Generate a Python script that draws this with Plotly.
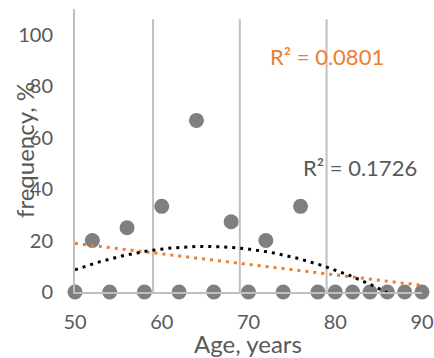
import numpy as np
import plotly.graph_objects as go

# Age groups (years) and observed frequency (%)
ages = [50, 52, 54, 56, 58, 60, 62, 64, 66, 68, 70, 72, 74, 76, 78, 80, 82, 84, 86, 88, 90]
freq = [0, 20, 0, 25, 0, 33.3, 0, 66.7, 0, 27.3, 0, 20, 0, 33.3, 0, 0, 0, 0, 0, 0, 0]

# Vertical reference lines
ref_x = [59, 69, 79]
ref_top = 106

# Trendline labels
r2_linear = "R² = 0.0801"
r2_poly = "R² = 0.1726"

x_ticks = [50, 60, 70, 80, 90]
y_ticks = [0, 20, 40, 60, 80, 100]

# Least-squares trendlines: linear and 2nd-order polynomial
x = np.array(ages, dtype=float)
y = np.array(freq, dtype=float)
xs = np.linspace(50, 90, 200)
lin = np.polyfit(x, y, 1)
poly = np.polyfit(x, y, 2)

GRAY = "#595959"
LINE = "#BFBFBF"
FONT = "Lato"

fig = go.Figure()

for rx in ref_x:
    fig.add_shape(type="line", x0=rx, x1=rx, y0=0, y1=ref_top,
                  line=dict(color=LINE, width=2), layer="below")

fig.add_trace(go.Scatter(x=ages, y=freq, mode="markers",
                         marker=dict(color="#7F7F7F", size=15),
                         cliponaxis=False, showlegend=False))
fig.add_trace(go.Scatter(x=xs, y=np.polyval(lin, xs), mode="lines",
                         line=dict(color="#ED7D31", width=3, dash="3px,5px"),
                         showlegend=False))
fig.add_trace(go.Scatter(x=xs, y=np.polyval(poly, xs), mode="lines",
                         line=dict(color="#000000", width=3, dash="3px,5px"),
                         showlegend=False))

fig.add_annotation(x=79.05, y=91.4, text=r2_linear, showarrow=False,
                   font=dict(family=FONT, size=22, color="#ED7D31"))
fig.add_annotation(x=82.8, y=48.2, text=r2_poly, showarrow=False,
                   font=dict(family=FONT, size=22, color=GRAY))

# Axis titles
fig.add_annotation(xref="paper", yref="paper", x=-0.144, y=0.502,
                   xanchor="center", yanchor="middle",
                   text="frequency, %", textangle=-90, showarrow=False,
                   font=dict(family=FONT, size=24, color=GRAY))
fig.add_annotation(xref="paper", yref="paper", x=0.4986, y=-0.182,
                   xanchor="center", yanchor="middle",
                   text="Age, years", showarrow=False,
                   font=dict(family=FONT, size=24, color=GRAY))

fig.update_layout(
    width=434, height=358,
    margin=dict(l=75, r=12, t=9, b=66),
    paper_bgcolor="white", plot_bgcolor="white",
    font=dict(family=FONT, color=GRAY),
    xaxis=dict(range=[50, 90], tickvals=x_ticks, showgrid=False, zeroline=False,
               showline=True, linecolor=LINE, linewidth=2, automargin=False,
               ticks="outside", ticklen=11, tickcolor="rgba(0,0,0,0)",
               tickfont=dict(size=20, color=GRAY)),
    yaxis=dict(range=[0, 110], tickvals=y_ticks, showgrid=False, zeroline=False,
               showline=True, linecolor=LINE, linewidth=2, automargin=False,
               ticks="outside", ticklen=16, tickcolor="rgba(0,0,0,0)",
               tickfont=dict(size=20, color=GRAY)),
)

fig.write_html("out.html")
